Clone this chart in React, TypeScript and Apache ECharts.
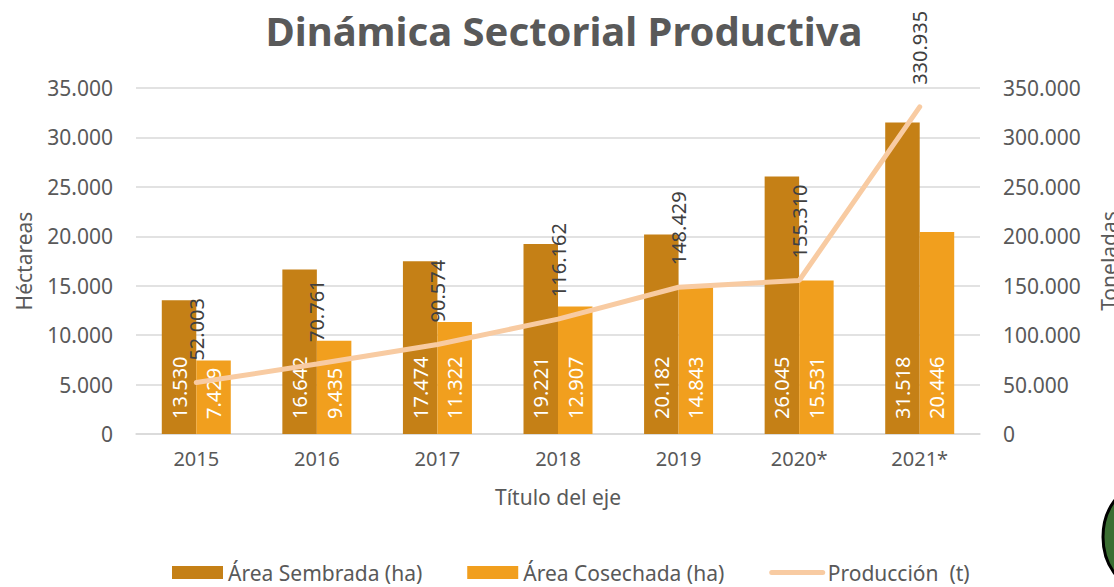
import React, { useEffect, useRef } from "react";
import * as echarts from "echarts";

const years = ["2015", "2016", "2017", "2018", "2019", "2020*", "2021*"];
const areaSembrada = [13530, 16642, 17474, 19221, 20182, 26045, 31518];
const areaCosechada = [7429, 9435, 11322, 12907, 14843, 15531, 20446];
const produccion = [52003, 70761, 90574, 116162, 148429, 155310, 330935];

const FONT = "'Noto Sans', 'Open Sans', sans-serif";
const GRAY = "#595959";
const LINE = "#F8CBA2";

const fmt = (v: number) =>
  Math.round(v).toString().replace(/\B(?=(\d{3})+(?!\d))/g, ".");

export default function App() {
  const ref = useRef<HTMLDivElement>(null);
  useEffect(() => {
    if (!ref.current) return;
    const chart = echarts.init(ref.current, undefined, { renderer: "svg" });
    chart.setOption({
      animation: false,
      backgroundColor: "#ffffff",
      textStyle: { fontFamily: FONT },
      grid: {
        left: 136,
        right: 134,
        top: 88,
        bottom: 153,
        containLabel: false,
        outerBoundsMode: "none",
      },
      legend: {
        top: 557,
        left: 167,
        itemWidth: 51,
        itemHeight: 13,
        itemGap: 45,
        textStyle: { color: GRAY, fontSize: 21, fontFamily: FONT },
        data: [
          { name: "Área Sembrada (ha)", icon: "rect" },
          { name: "Área Cosechada (ha)", icon: "rect" },
          {
            name: "Producción  (t)",
            itemStyle: { opacity: 0 },
            lineStyle: { width: 5, cap: "round", color: LINE },
          },
        ],
      },
      xAxis: {
        type: "category",
        data: years,
        name: "Título del eje",
        nameLocation: "middle",
        nameGap: 52,
        nameTextStyle: { color: GRAY, fontSize: 21, fontFamily: FONT },
        axisLine: { show: true, lineStyle: { color: "#D9D9D9", width: 1.5 } },
        axisTick: { show: false },
        axisLabel: { color: GRAY, fontSize: 20, margin: 14, fontFamily: FONT },
      },
      yAxis: [
        {
          type: "value",
          min: 0,
          max: 35000,
          interval: 5000,
          name: "Héctareas",
          nameLocation: "middle",
          nameRotate: 90,
          nameGap: 102,
          nameTextStyle: { color: GRAY, fontSize: 21, fontFamily: FONT },
          axisLine: { show: false },
          axisTick: { show: false },
          axisLabel: { color: GRAY, fontSize: 21, margin: 23, formatter: fmt, fontFamily: FONT },
          splitLine: { lineStyle: { color: "#D9D9D9", width: 1.5 } },
        },
        {
          type: "value",
          min: 0,
          max: 350000,
          interval: 50000,
          name: "Toneladas",
          nameLocation: "middle",
          nameRotate: 90,
          nameGap: 118,
          nameTextStyle: { color: GRAY, fontSize: 21, fontFamily: FONT },
          axisLine: { show: false },
          axisTick: { show: false },
          axisLabel: { color: GRAY, fontSize: 21, margin: 23, formatter: fmt, fontFamily: FONT },
          splitLine: { show: false },
        },
      ],
      series: [
        {
          name: "Área Sembrada (ha)",
          type: "bar",
          data: areaSembrada,
          barWidth: 34.5,
          barGap: "0%",
          itemStyle: { color: "#C58016" },
          label: {
            show: true,
            position: "insideBottom",
            rotate: 90,
            align: "left",
            verticalAlign: "middle",
            distance: 15,
            color: "#ffffff",
            fontSize: 20,
            fontFamily: FONT,
            formatter: (p: any) => fmt(p.value),
          },
        },
        {
          name: "Área Cosechada (ha)",
          type: "bar",
          data: areaCosechada,
          barWidth: 34.5,
          barGap: "0%",
          itemStyle: { color: "#F19F1E" },
          label: {
            show: true,
            position: "insideBottom",
            rotate: 90,
            align: "left",
            verticalAlign: "middle",
            distance: 15,
            color: "#ffffff",
            fontSize: 20,
            fontFamily: FONT,
            formatter: (p: any) => fmt(p.value),
          },
        },
        {
          name: "Producción  (t)",
          type: "line",
          yAxisIndex: 1,
          data: produccion,
          symbol: "circle",
          symbolSize: 0.01,
          showSymbol: true,
          lineStyle: { color: LINE, width: 5, cap: "round" },
          itemStyle: { color: LINE },
          z: 5,
          label: {
            show: true,
            position: "top",
            rotate: 90,
            align: "left",
            verticalAlign: "middle",
            distance: 22,
            color: "#404040",
            fontSize: 20,
            fontFamily: FONT,
            formatter: (p: any) => fmt(p.value),
          },
        },
      ],
      graphic: [
        {
          type: "text",
          x: 564,
          y: 30,
          style: {
            text: "Dinámica Sectorial Productiva",
            fill: GRAY,
            font: `bold 40px ${FONT}`,
            textAlign: "center",
            textVerticalAlign: "middle",
          },
        },
        {
          type: "ellipse",
          shape: { cx: 1140, cy: 537, rx: 37, ry: 50 },
          style: { fill: "#3B6E32", stroke: "#000000", lineWidth: 3 },
        },
      ],
    });
    return () => chart.dispose();
  }, []);
  return (
    <div
      ref={ref}
      style={{ position: "fixed", left: 0, top: 0, width: 1114, height: 587 }}
    />
  );
}
